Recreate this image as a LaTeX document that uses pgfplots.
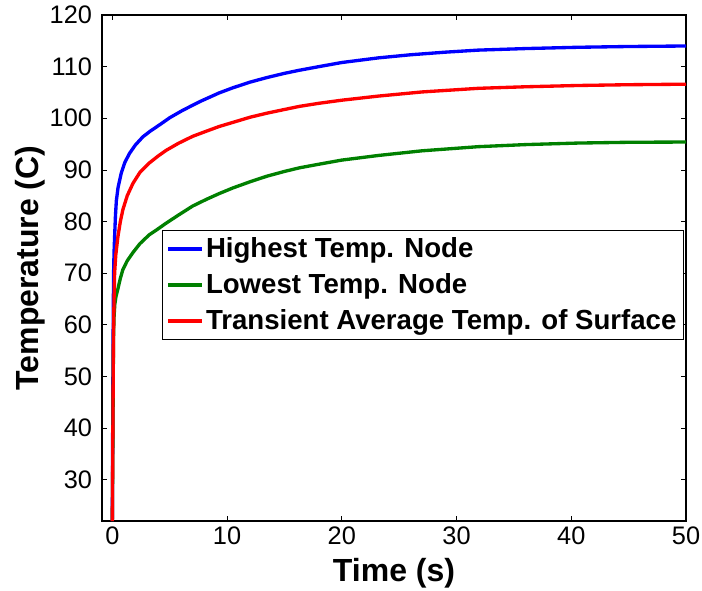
\documentclass[border=0pt]{standalone}
\usepackage{fontspec}
\setmainfont{Liberation Sans}
\usepackage{pgfplots}
\pgfplotsset{compat=1.18}
\definecolor{mblue}{rgb}{0,0,1}
\definecolor{mgreen}{rgb}{0,0.5,0}
\definecolor{mred}{rgb}{1,0,0}
\begin{document}
\begin{tikzpicture}
\begin{axis}[
  at={(0,0)}, anchor=south west,
  scale only axis,
  width=438pt, height=379.5pt,
  xmin=-0.9, xmax=50, ymin=22, ymax=120,
  xtick={0,10,20,30,40,50},
  ytick={30,40,50,60,70,80,90,100,110,120},
  tick align=inside,
  major tick length=4pt,
  axis line style={line width=1pt},
  tick style={line width=0.6pt, black},
  /pgf/number format/assume math mode=true,
  ticklabel style={font=\fontsize{19}{22}\selectfont},
  xticklabel style={yshift=-1pt},
  yticklabel style={xshift=-4pt},
  xlabel={Time (s)}, ylabel={Temperature (C)},
  label style={font=\fontsize{24}{28}\selectfont\bfseries},
  xlabel style={at={(axis description cs:0.5,-0.103)}, anchor=center},
  ylabel style={at={(axis description cs:-0.123,0.5)}, anchor=center},
  legend style={at={(rel axis cs:0.103,0.575)}, anchor=north west,
    draw=black, line width=0.8pt, font=\fontsize{20.7}{24}\selectfont\bfseries,
    inner xsep=3pt, inner ysep=3.5pt, row sep=6.5pt},
  legend cell align=left,
  legend image code/.code={\draw[#1] (0pt,0pt) -- (25pt,0pt);},
  legend image post style={line width=2.5pt},
]
\addplot[mblue, line width=2.5pt] coordinates {
(0,22) (0.04,45) (0.08,62) (0.11,70) (0.15,74) (0.2,77.1) (0.27,81) (0.35,84) (0.5,86.6) (0.78,89.4) (1.1,91.5) (1.5,93.2) (2,94.8) (2.66,96.4) (3.3,97.5) (4.1,98.7) (5,100.1) (6.1,101.5) (7.6,103.2) (9.3,104.9) (10.5,105.9) (12,107.0) (13.5,107.9) (15,108.7) (16.3,109.3) (18,110.0) (20,110.8) (23.2,111.7) (26,112.3) (29,112.8) (31.9,113.2) (36,113.5) (40.6,113.75) (45,113.9) (50,114.0)
};
\addlegendentry{Highest Temp. Node}
\addplot[mgreen, line width=2.5pt] coordinates {
(0,22) (0.05,38) (0.1,57) (0.15,61.5) (0.22,64) (0.32,65.5) (0.49,67) (0.7,69) (0.92,70.7) (1.3,72.4) (1.8,74) (2.4,75.7) (3.2,77.4) (4,78.6) (4.7,79.7) (5.8,81.3) (7,83.0) (8.2,84.3) (9.3,85.4) (10.5,86.5) (12,87.7) (13.5,88.8) (15,89.7) (16.3,90.4) (18,91.1) (20,91.9) (23.2,92.8) (27,93.7) (31.9,94.5) (36,94.9) (40.6,95.2) (45,95.35) (50,95.4)
};
\addlegendentry{Lowest Temp. Node}
\addplot[mred, line width=2.5pt] coordinates {
(0,22) (0.05,40) (0.1,58) (0.15,65) (0.2,70) (0.3,73.5) (0.49,77.1) (0.7,80) (0.92,82.3) (1.3,85) (1.8,87.4) (2.4,89.5) (3.2,91.3) (4,92.7) (4.7,93.8) (5.8,95.2) (7,96.5) (8.2,97.5) (9.3,98.4) (10.5,99.2) (12,100.2) (13.5,101) (15,101.7) (16.3,102.3) (18,102.9) (20,103.5) (23.2,104.3) (27,105.1) (31.9,105.8) (36,106.1) (40.6,106.35) (45,106.5) (50,106.6)
};
\addlegendentry{Transient Average Temp. of Surface}
\end{axis}
\pgfresetboundingbox
\useasboundingbox (-76.5pt,-51.75pt) rectangle (450pt,390.75pt);
\end{tikzpicture}
\end{document}
